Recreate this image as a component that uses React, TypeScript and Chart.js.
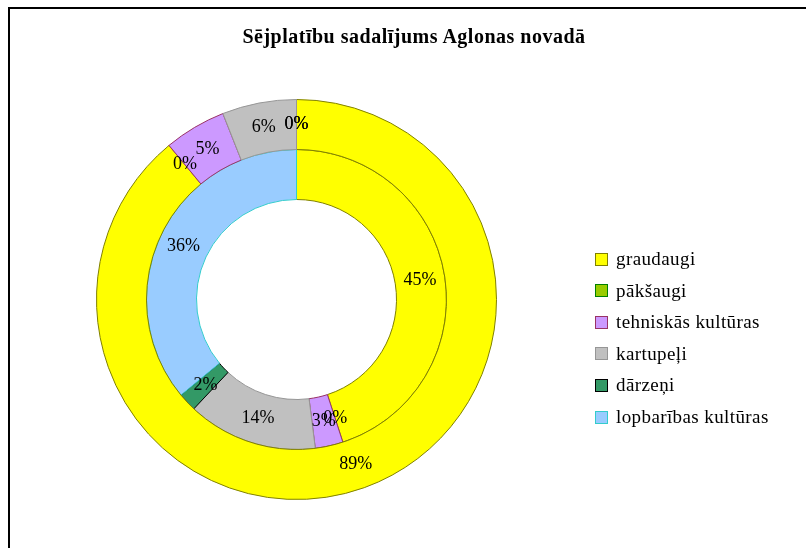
import React, { useEffect, useRef } from "react";
import { Chart, registerables } from "chart.js";

Chart.register(...registerables);

const title = "Sējplatību sadalījums Aglonas novadā";
const categories = [
  "graudaugi",
  "pākšaugi",
  "tehniskās kultūras",
  "kartupeļi",
  "dārzeņi",
  "lopbarības kultūras",
];
const outerValues = [89, 0, 5, 6, 0, 0];
const innerValues = [45, 0, 3, 14, 2, 36];

const fillColors = ["#FFFF00", "#99CC00", "#CC99FF", "#C0C0C0", "#339966", "#99CCFF"];
const borderColors = ["#808000", "#008000", "#993366", "#969696", "#000000", "#33CCCC"];

const FONT = '"Liberation Serif", "Times New Roman", serif';

const labelPlugin = {
  id: "pctLabels",
  afterDatasetsDraw(chart: any) {
    const ctx = chart.ctx;
    ctx.save();
    ctx.font = `18px ${FONT}`;
    ctx.fillStyle = "#000";
    ctx.textAlign = "center";
    ctx.textBaseline = "middle";
    chart.data.datasets.forEach((ds: any, di: number) => {
      const meta = chart.getDatasetMeta(di);
      meta.data.forEach((arc: any, i: number) => {
        const p = arc.getCenterPoint();
        ctx.fillText(`${ds.data[i]}%`, p.x, p.y);
      });
    });
    ctx.restore();
  },
};

export default function App() {
  const ref = useRef<HTMLCanvasElement>(null);
  useEffect(() => {
    if (!ref.current) return;
    const chart = new Chart(ref.current, {
      type: "doughnut",
      data: {
        labels: categories,
        datasets: [
          {
            data: outerValues,
            backgroundColor: fillColors,
            borderColor: borderColors,
            borderWidth: 1,
          },
          {
            data: innerValues,
            backgroundColor: fillColors,
            borderColor: borderColors,
            borderWidth: 1,
          },
        ],
      },
      options: {
        responsive: false,
        animation: false,
        cutout: "50%",
        layout: { padding: { left: 96, top: 99, right: 309, bottom: 48 } },
        plugins: {
          legend: { display: false },
          title: { display: false },
          tooltip: { enabled: false },
        },
      },
      plugins: [labelPlugin],
    });
    return () => chart.destroy();
  }, []);

  return (
    <div style={{ position: "fixed", left: 0, top: 0, width: 806, height: 548, background: "#fff", overflow: "hidden" }}>
      <canvas ref={ref} width={806} height={548} style={{ position: "absolute", left: 0, top: 0 }} />
      <div style={{ position: "absolute", left: 8, top: 7, width: 798, height: 2, background: "#000" }} />
      <div style={{ position: "absolute", left: 8, top: 7, width: 2, height: 541, background: "#000" }} />
      <div
        style={{
          position: "absolute",
          left: 0,
          width: 828,
          top: 25,
          lineHeight: "22px",
          textAlign: "center",
          fontFamily: FONT,
          fontWeight: "bold",
          fontSize: 20,
          letterSpacing: 0.5,
          color: "#000",
        }}
      >
        {title}
      </div>
      {categories.map((c, i) => (
        <div key={c} style={{ position: "absolute", left: 595, top: 249 + i * 31.6, height: 20, display: "flex", alignItems: "center" }}>
          <div
            style={{
              width: 11,
              height: 11,
              background: fillColors[i],
              border: `1px solid ${borderColors[i]}`,
              marginRight: 8,
            }}
          />
          <span style={{ fontFamily: FONT, fontSize: 19, letterSpacing: 0.4, color: "#000", lineHeight: "20px", whiteSpace: "nowrap" }}>{c}</span>
        </div>
      ))}
    </div>
  );
}
